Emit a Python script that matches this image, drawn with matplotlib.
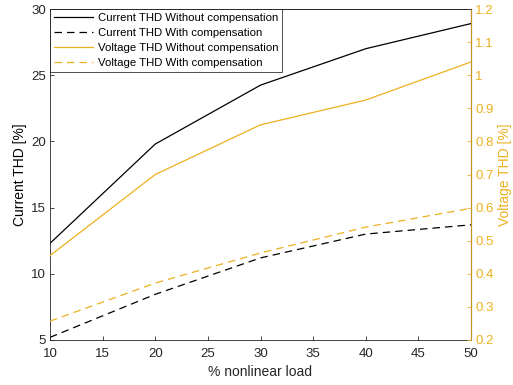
import matplotlib.pyplot as plt
import numpy as np

plt.rcParams['font.family'] = ['Liberation Sans', 'DejaVu Sans']

load = [10, 20, 30, 40, 50]
cur_without = [12.3, 19.8, 24.25, 27.0, 28.9]
cur_with = [5.2, 8.45, 11.2, 13.0, 13.7]
volt_without = [0.455, 0.70, 0.85, 0.925, 1.04]
volt_with = [0.257, 0.372, 0.463, 0.541, 0.598]

orange = '#EDB120'

fig = plt.figure(figsize=(5.13, 3.85), dpi=100)
ax1 = fig.add_axes([50 / 513, 45 / 385, 421 / 513, 331 / 385])
ax2 = ax1.twinx()

l1, = ax1.plot(load, cur_without, color='black', lw=0.9, label='Current THD Without compensation')
l2, = ax1.plot(load, cur_with, color='black', lw=0.9, ls=(0, (6, 4)), label='Current THD With compensation')
l3, = ax2.plot(load, volt_without, color=orange, lw=0.9, label='Voltage THD Without compensation')
l4, = ax2.plot(load, volt_with, color=orange, lw=0.9, ls=(0, (6, 4)), label='Voltage THD With compensation')

ax1.set_xlim(10, 50)
ax1.set_ylim(5, 30)
ax2.set_ylim(0.2, 1.2)
ax1.set_xticks(np.arange(10, 51, 5))
ax1.set_yticks(np.arange(5, 31, 5))
ax2.set_yticks(np.arange(0.2, 1.21, 0.1))
ax2.set_yticklabels(['0.2', '0.3', '0.4', '0.5', '0.6', '0.7', '0.8', '0.9', '1', '1.1', '1.2'])

ax1.set_xlabel('% nonlinear load', fontsize=10, color='#262626', labelpad=3)
ax1.set_ylabel('Current THD [%]', fontsize=10, color='black', labelpad=3)
ax2.set_ylabel('Voltage THD [%]', fontsize=10, color=orange, labelpad=3)

ax1.tick_params(axis='both', direction='in', labelsize=9.5, length=3, width=0.6, colors='#262626')
ax1.tick_params(axis='y', pad=3)
ax1.tick_params(axis='x', pad=6, top=False)
ax2.tick_params(axis='y', direction='in', labelsize=9.5, length=3, width=0.6, colors=orange, pad=3)

for s in ['left', 'bottom', 'top']:
    ax1.spines[s].set_color('#262626')
    ax1.spines[s].set_linewidth(0.6)
ax2.spines['right'].set_color(orange)
ax2.spines['right'].set_linewidth(0.6)
ax2.spines['left'].set_visible(False)
ax2.spines['top'].set_color('#262626')
ax2.spines['top'].set_linewidth(0.6)
ax2.spines['bottom'].set_visible(False)

leg = ax2.legend(handles=[l1, l2, l3, l4], loc='upper left', fontsize=8.2,
                 frameon=True, fancybox=False, borderaxespad=0, handlelength=3.4,
                 borderpad=0.35, labelspacing=0.43, handletextpad=0.45)
leg.get_frame().set_edgecolor('black')
leg.get_frame().set_linewidth(0.6)

fig.savefig('out.png', dpi=100)
